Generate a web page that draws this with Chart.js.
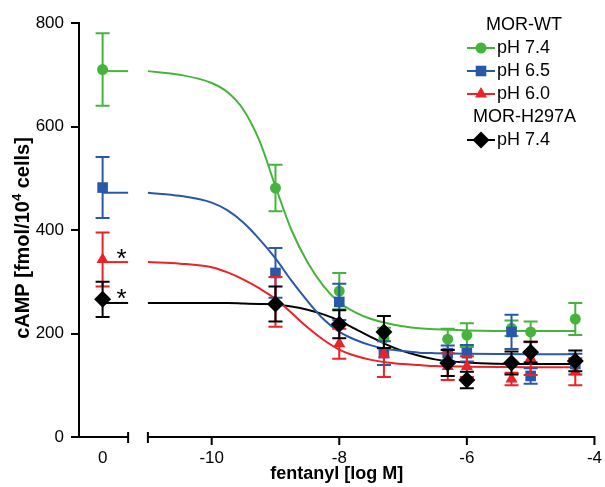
<!DOCTYPE html>
<html><head><meta charset="utf-8">
<script src="https://cdn.jsdelivr.net/npm/chart.js@4.4.0/dist/chart.umd.min.js"></script>
<style>html,body{margin:0;padding:0;background:#fff}#wrap{width:605px;height:487px}</style>
</head><body><div id="wrap"><canvas id="c" width="605" height="487"></canvas></div>
<script>
// ---- axis definition (scale values, broken x axis) ----
const X_MIN = -12.08, X_MAX = -4;
const CONTROL_X = -11.71;      // position of "0" (no fentanyl) on the left axis segment
const BREAK_END = -11.31;      // end of the left axis segment
const RIGHT_START = -11;       // start of the right (log M) segment
const xTickValues = [CONTROL_X, -10, -8, -6, -4];
const xTickLabels = ['0', '-10', '-8', '-6', '-4'];
const yTicks = [0, 200, 400, 600, 800];
const xTitle = 'fentanyl [log M]';
const yTitleParts = ['cAMP [fmol/10', '4', ' cells]'];

// ---- measured data: first entry = control (0), then log doses ----
const logDose = [-9, -8, -7.3, -6.3, -6, -5.3, -5, -4.3];
const wt74Mean = [710, 481, 282, 191, 189, 197, 210, 203, 228];
const wt74Sem  = [70, 45, 35, 20, 20, 23, 15, 20, 31];
const wt65Mean = [482, 317, 261, 162, 162, 162, 203, 118, 141];
const wt65Sem  = [59, 48, 35, 23, 15, 16, 33, 15, 20];
const wt60Mean = [343, 261, 180, 160, 136, 136, 112, 152, 126];
const wt60Sem  = [52, 48, 29, 44, 26, 20, 12, 32, 26];
const h297Mean = [266, 257, 218, 203, 143, 110, 143, 164, 147];
const h297Sem  = [34, 34, 27, 31, 25, 16, 22, 20, 20];

// ---- fitted curves ----
const fitX    = [-11, -10.5, -10, -9.75, -9.5, -9.25, -9, -8.75, -8.5, -8.25, -8, -7.75, -7.5, -7.25, -7, -6.75, -6.5, -6, -5, -4.3];
const wt74Fit = [707, 700, 684, 666, 632, 572, 484, 400, 338, 292, 260, 241, 228, 220, 214, 210, 208, 206, 205, 205];
const wt65Fit = [472, 466, 453, 438, 414, 382, 345, 302, 263, 228, 203, 188, 177, 170, 166, 163, 162, 161, 160, 160];
const wt60Fit = [338, 335, 328, 318, 304, 287, 267, 240, 212, 188, 169, 157, 149, 144, 141, 139, 137, 136, 135, 135];
const h297Fit = [259, 259, 259, 259, 258, 257, 256, 252, 246, 237, 225, 209, 193, 178, 166, 157, 150, 144, 141, 141];

const seriesNames = ['pH 7.4', 'pH 6.5', 'pH 6.0', 'pH 7.4'];
const groupNames = ['MOR-WT', 'MOR-H297A'];
const significantAtControl = [false, false, true, true];

const colors = ['#46b43c', '#2a58a8', '#ec2227', '#000000'];
const styles = ['circle', 'rect', 'triangle', 'rectRot'];
const radii = [5.5, 7.5, 7, 8.5];

const xPos = [CONTROL_X].concat(logDose);
const means = [wt74Mean, wt65Mean, wt60Mean, h297Mean];
const sems = [wt74Sem, wt65Sem, wt60Sem, h297Sem];
const fits = [wt74Fit, wt65Fit, wt60Fit, h297Fit];

const FAMILY = '"Liberation Sans", Arial, sans-serif';
Chart.defaults.font.family = FAMILY;
Chart.defaults.color = '#000';

const datasets = [];
for (let s = 0; s < 4; s++) {
  datasets.push({
    label: 'fit' + s, showLine: true, borderColor: colors[s], borderWidth: 2,
    pointRadius: 0, cubicInterpolationMode: 'monotone', order: 20 + s, clip: false,
    data: fitX.map((x, i) => ({x, y: fits[s][i]}))
  });
  datasets.push({
    label: 'top' + s, showLine: true, borderColor: colors[s], borderWidth: 2,
    pointRadius: 0, order: 20 + s, clip: false,
    data: [{x: CONTROL_X, y: fits[s][0]}, {x: BREAK_END, y: fits[s][0]}]
  });
  datasets.push({
    label: seriesNames[s], showLine: false, pointStyle: styles[s], pointRadius: radii[s],
    backgroundColor: colors[s], borderColor: colors[s], borderWidth: 0, order: 10 - s, clip: false,
    errors: sems[s], star: significantAtControl[s],
    data: xPos.map((x, i) => ({x, y: means[s][i]}))
  });
}

const errorBars = {
  id: 'errorBars',
  beforeDatasetDraw(chart, args) {
    const ds = chart.data.datasets[args.index];
    if (!ds.errors) return;
    const ctx = chart.ctx, ys = chart.scales.y;
    ctx.save();
    ctx.strokeStyle = ds.borderColor; ctx.lineWidth = 2;
    args.meta.data.forEach((pt, i) => {
      const v = ds.data[i].y, e = ds.errors[i];
      const yt = ys.getPixelForValue(v + e), yb = ys.getPixelForValue(v - e);
      const x = pt.x;
      ctx.beginPath();
      ctx.moveTo(x, yt); ctx.lineTo(x, yb);
      ctx.moveTo(x - 7, yt); ctx.lineTo(x + 7, yt);
      ctx.moveTo(x - 7, yb); ctx.lineTo(x + 7, yb);
      ctx.stroke();
    });
    ctx.restore();
  },
  afterDatasetsDraw(chart) {
    const ctx = chart.ctx;
    ctx.save();
    ctx.fillStyle = '#000';
    ctx.font = '26px ' + FAMILY;
    ctx.textAlign = 'left'; ctx.textBaseline = 'alphabetic';
    chart.data.datasets.forEach((ds, di) => {
      if (!ds.star) return;
      const pt = chart.getDatasetMeta(di).data[0];
      ctx.fillText('*', pt.x + 14, pt.y + 8);
    });
    ctx.restore();
  }
};

const brokenAxis = {
  id: 'brokenAxis',
  beforeDatasetsDraw(chart) {
    const ctx = chart.ctx, xs = chart.scales.x, ys = chart.scales.y;
    const y0 = ys.getPixelForValue(0);
    const l = chart.chartArea.left;
    const b = xs.getPixelForValue(BREAK_END);
    const r0 = xs.getPixelForValue(RIGHT_START), r1 = xs.getPixelForValue(X_MAX);
    ctx.save();
    ctx.strokeStyle = '#000'; ctx.lineWidth = 2;
    ctx.beginPath();
    ctx.moveTo(l - 1, y0); ctx.lineTo(b, y0);
    ctx.moveTo(b, y0 - 5); ctx.lineTo(b, y0 + 6);
    ctx.moveTo(r0, y0); ctx.lineTo(r1 + 1, y0);
    ctx.moveTo(r0, y0 - 5); ctx.lineTo(r0, y0 + 6);
    xTickValues.slice(1).forEach(v => {
      const p = xs.getPixelForValue(v);
      ctx.moveTo(p, y0); ctx.lineTo(p, y0 + 8);
    });
    ctx.stroke();
    ctx.restore();
  },
  afterDraw(chart) {
    // y-axis title with superscript
    const ctx = chart.ctx;
    const big = 'bold 20px ' + FAMILY, small = 'bold 13px ' + FAMILY;
    ctx.save();
    ctx.translate(23, 238);
    ctx.rotate(-Math.PI / 2);
    ctx.fillStyle = '#000';
    ctx.textBaseline = 'middle'; ctx.textAlign = 'left';
    ctx.font = big; const w0 = ctx.measureText(yTitleParts[0]).width;
    ctx.font = small; const w1 = ctx.measureText(yTitleParts[1]).width;
    ctx.font = big; const w2 = ctx.measureText(yTitleParts[2]).width;
    let x = -(w0 + w1 + w2) / 2;
    ctx.font = big; ctx.fillText(yTitleParts[0], x, 0); x += w0;
    ctx.font = small; ctx.fillText(yTitleParts[1], x, -6); x += w1;
    ctx.font = big; ctx.fillText(yTitleParts[2], x, 0);
    ctx.restore();
  }
};

const legendGroups = {
  id: 'legendGroups',
  afterDraw(chart) {
    const ctx = chart.ctx;
    ctx.save();
    ctx.font = '18px ' + FAMILY;
    ctx.textBaseline = 'middle'; ctx.textAlign = 'left';
    ctx.fillStyle = '#000';
    ctx.fillText(groupNames[0], 486, 25);
    ctx.fillText(groupNames[1], 473, 117);
    const rows = [48, 71, 94, 140];
    for (let s = 0; s < 4; s++) {
      const y = rows[s];
      ctx.strokeStyle = colors[s]; ctx.fillStyle = colors[s]; ctx.lineWidth = 2;
      ctx.beginPath(); ctx.moveTo(467, y); ctx.lineTo(495, y); ctx.stroke();
      Chart.helpers.drawPoint(ctx, {pointStyle: styles[s], radius: radii[s], rotation: 0, borderWidth: 0}, 481, y);
      ctx.fillStyle = '#000';
      ctx.fillText(seriesNames[s], 497, y);
    }
    ctx.restore();
  }
};

new Chart(document.getElementById('c'), {
  type: 'scatter',
  data: {datasets},
  plugins: [errorBars, brokenAxis, legendGroups],
  options: {
    responsive: false, animation: false, devicePixelRatio: 1,
    layout: {padding: {top: 23, right: 9, left: 0, bottom: 0}},
    plugins: {legend: {display: false}, tooltip: {enabled: false}},
    scales: {
      x: {
        type: 'linear', min: X_MIN, max: X_MAX,
        afterBuildTicks: s => { s.ticks = xTickValues.map(v => ({value: v})); },
        afterFit: s => { s.height = 50; },
        ticks: {autoSkip: false, maxRotation: 0, padding: 3, font: {size: 17}, color: '#000',
                callback: (v, i) => xTickLabels[i]},
        grid: {display: false, drawTicks: true, tickLength: 8},
        border: {display: false},
        title: {display: true, text: xTitle, font: {size: 18, weight: 'bold'}, color: '#000',
                padding: {top: 0, bottom: 2}}
      },
      y: {
        type: 'linear', min: 0, max: 800,
        afterBuildTicks: s => { s.ticks = yTicks.map(v => ({value: v})); },
        afterFit: s => { s.width = 79; },
        ticks: {padding: 7, font: {size: 17}, color: '#000'},
        grid: {display: true, drawOnChartArea: false, drawTicks: true, tickLength: 8, color: '#000', lineWidth: 2},
        border: {display: true, color: '#000', width: 2},
        title: {display: false}
      }
    }
  }
});
</script>
</body></html>
